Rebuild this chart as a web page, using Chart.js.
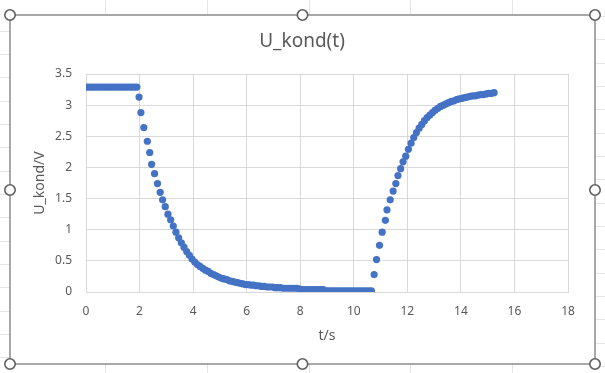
<!DOCTYPE html>
<html>
<head>
<meta charset="utf-8">
<script src="https://cdn.jsdelivr.net/npm/chart.js@4/dist/chart.umd.min.js"></script>
<style>
  html, body { margin: 0; padding: 0; background: #fff; }
  #wrap { width: 605px; height: 373px; position: relative; }
</style>
</head>
<body>
<div id="wrap"><canvas id="c" width="605" height="373"></canvas></div>
<script>
// ---- data ----
const chartTitle = "U_kond(t)";
const xTitle = "t/s";
const yTitle = "U_kond/V";

const timeS = [
  0.0,0.1,0.2,0.3,0.4,0.5,0.6,0.7,0.8,0.9,1.0,1.1,1.2,1.3,1.4,1.5,1.6,1.7,1.8,1.9,
  1.98,2.05,2.16,2.29,2.38,2.45,2.56,2.67,2.77,2.86,2.96,3.06,3.16,3.26,3.36,3.46,3.56,3.66,3.76,3.86,3.96,
  4.06,4.16,4.26,4.36,4.46,4.56,4.66,4.76,4.86,4.96,5.06,5.16,5.26,5.36,5.46,5.56,5.66,5.76,5.86,5.96,
  6.06,6.16,6.26,6.36,6.46,6.56,6.66,6.76,6.86,6.96,7.06,7.16,7.26,7.36,7.46,7.56,7.66,7.76,7.86,7.96,
  8.06,8.16,8.26,8.36,8.46,8.56,8.66,8.76,8.86,8.96,9.06,9.16,9.26,9.36,9.46,9.56,9.66,9.76,9.86,9.96,
  10.06,10.16,10.26,10.36,10.46,10.56,10.66,
  10.76,10.85,10.96,11.06,11.18,11.24,11.36,11.47,11.57,11.65,11.75,11.84,11.94,12.04,
  12.14,12.24,12.34,12.44,12.54,12.64,12.74,12.84,12.94,13.04,13.14,13.24,13.34,13.44,13.54,13.64,13.74,13.84,13.94,
  14.04,14.14,14.24,14.34,14.44,14.54,14.64,14.74,14.84,14.94,15.04,15.14,15.24
];

const uKond = [
  3.29,3.29,3.29,3.29,3.29,3.29,3.29,3.29,3.29,3.29,3.29,3.29,3.29,3.29,3.29,3.29,3.29,3.29,3.29,3.29,
  3.13,2.88,2.64,2.42,2.24,2.05,1.90,1.74,1.60,1.48,1.37,1.25,1.16,1.06,0.96,0.87,0.79,0.72,0.65,0.59,0.53,
  0.48,0.44,0.41,0.38,0.35,0.33,0.30,0.28,0.26,0.24,0.22,0.21,0.20,0.18,0.17,0.16,0.15,0.14,0.13,0.12,
  0.12,0.11,0.11,0.10,0.10,0.09,0.09,0.08,0.08,0.08,0.07,0.07,0.07,0.06,0.06,0.06,0.06,0.06,0.06,0.05,
  0.04,0.04,0.04,0.04,0.04,0.04,0.04,0.04,0.04,0.02,0.02,0.02,0.02,0.02,0.02,0.02,0.02,0.02,0.02,0.02,
  0.02,0.02,0.02,0.02,0.02,0.02,0.02,
  0.28,0.52,0.75,0.96,1.15,1.32,1.48,1.62,1.74,1.87,1.98,2.09,2.18,2.29,
  2.39,2.48,2.56,2.63,2.69,2.75,2.80,2.84,2.88,2.92,2.95,2.98,3.00,3.02,3.04,3.06,3.07,3.09,3.10,
  3.11,3.12,3.13,3.14,3.15,3.15,3.16,3.17,3.17,3.18,3.19,3.19,3.20
];

const xTicksMin = 0, xTicksMax = 18, xStep = 2;
const yTicksMin = 0, yTicksMax = 3.5, yStep = 0.5;

// ---- chart ----
const points = timeS.map((t, i) => ({ x: t, y: uKond[i] }));
const FONT = "'Noto Sans', 'Open Sans', sans-serif";
const TXT = '#595959';
const GRID = '#d9d9d9';

const excelFrame = {
  id: 'excelFrame',
  beforeDraw(chart) {
    const c = chart.ctx;
    c.save();
    c.fillStyle = '#ffffff';
    c.fillRect(0, 0, 605, 373);
    c.strokeStyle = '#e4e4e4';
    c.lineWidth = 1;
    c.beginPath();
    for (let k = 0; k < 16; k++) {
      const yl = Math.round(30.7 + 23.33 * k) + 0.5;
      c.moveTo(0, yl); c.lineTo(10, yl);
      const yr = Math.round(16 + 23.33 * k) + 0.5;
      c.moveTo(595, yr); c.lineTo(605, yr);
    }
    [105, 207, 309, 410, 512].forEach(x => {
      c.moveTo(x + 0.5, 0); c.lineTo(x + 0.5, 373);
    });
    c.stroke();
    c.fillStyle = '#ffffff';
    c.fillRect(10, 15, 585, 349);
    c.restore();
  },
  afterDraw(chart) {
    const c = chart.ctx;
    c.save();
    // chart title
    c.fillStyle = TXT;
    c.font = "19px " + FONT;
    c.textAlign = 'center';
    c.textBaseline = 'middle';
    c.fillText(chartTitle, 302, 42);
    // frame
    c.strokeStyle = '#8c8c8c';
    c.lineWidth = 1.5;
    c.strokeRect(10, 15, 585, 349);
    const hs = [[10,15],[302.5,15],[595,15],[10,190],[595,190],[10,364],[302.5,364],[595,364]];
    hs.forEach(([x, y]) => {
      c.beginPath();
      c.arc(x, y, 5.2, 0, Math.PI * 2);
      c.fillStyle = '#ffffff';
      c.fill();
      c.lineWidth = 1.6;
      c.strokeStyle = '#5f5f5f';
      c.stroke();
    });
    c.restore();
  }
};

new Chart(document.getElementById('c'), {
  type: 'scatter',
  data: {
    datasets: [{
      label: yTitle,
      data: points,
      backgroundColor: '#4472C4',
      borderColor: '#4472C4',
      borderWidth: 0,
      pointRadius: 3.6,
      pointHoverRadius: 3.6,
      showLine: false
    }]
  },
  options: {
    responsive: false,
    animation: false,
    devicePixelRatio: 1,
    layout: { padding: { left: 10, right: 37, top: 74, bottom: 10 } },
    plugins: {
      legend: { display: false },
      tooltip: { enabled: false },
      title: { display: false }
    },
    scales: {
      x: {
        type: 'linear',
        min: xTicksMin, max: xTicksMax,
        ticks: { stepSize: xStep, color: TXT, padding: 12, font: { family: FONT, size: 12 }, maxRotation: 0 },
        grid: { color: GRID, drawTicks: false, lineWidth: 1 },
        border: { display: true, color: GRID },
        title: { display: true, text: xTitle, color: TXT, font: { family: FONT, size: 14, lineHeight: 1.2 }, padding: { top: 0, bottom: 18.6 } },
        afterFit(s) { s.height = 71; }
      },
      y: {
        type: 'linear',
        min: yTicksMin, max: yTicksMax,
        ticks: {
          stepSize: yStep, color: TXT, padding: 14, font: { family: FONT, size: 12 },
          callback: (v) => String(Math.round(v * 10) / 10)
        },
        grid: { color: GRID, drawTicks: false, lineWidth: 1 },
        border: { display: true, color: GRID },
        title: { display: true, text: yTitle, color: TXT, font: { family: FONT, size: 14, lineHeight: 1.2 }, padding: { top: 22, bottom: 0 } },
        afterFit(s) { s.width = 76; }
      }
    }
  },
  plugins: [excelFrame]
});
</script>
</body>
</html>
